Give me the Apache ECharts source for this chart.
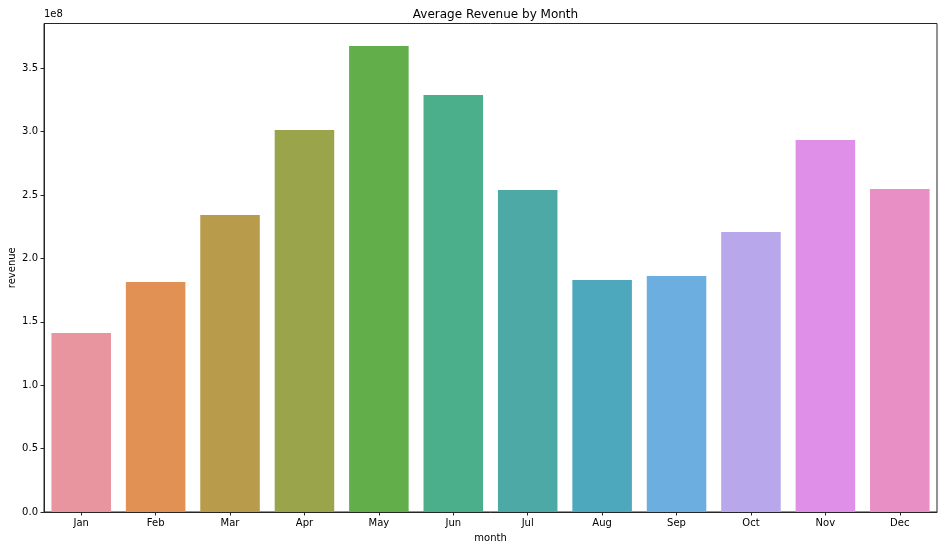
<!DOCTYPE html>
<html>
<head>
<meta charset="utf-8">
<script src="https://cdn.jsdelivr.net/npm/echarts@6/dist/echarts.min.js"></script>
<style>
html,body{margin:0;padding:0;background:#fff;}
#chart{width:944px;height:550px;}
</style>
</head>
<body>
<div id="chart"></div>
<script>
const months = ["Jan","Feb","Mar","Apr","May","Jun","Jul","Aug","Sep","Oct","Nov","Dec"];
const revenue = [141200000,181400000,234300000,301300000,367600000,328900000,254000000,183000000,186200000,220900000,293400000,254800000];
const barColors = ["#e8959f","#e29154","#b89b4b","#9aa54b","#61ae4a","#4aaf8a","#4ca9a6","#4ea8bd","#6caee0","#b8a8eb","#e08fe9","#e890c5"];
const yTicks = {min:0, max:385300000, interval:50000000};

const font = "DejaVu Sans";
const chart = echarts.init(document.getElementById('chart'), null, {renderer:'canvas'});
chart.setOption({
  backgroundColor:'#fff',
  animation:false,
  title:{
    text:'Average Revenue by Month',
    left: 44 + 893/2, top: 4, textAlign:'center',
    textStyle:{fontFamily:font, fontSize:12, fontWeight:'normal', color:'#000'}
  },
  graphic:[{
    type:'text', left:44, top:9,
    style:{text:'1e8', font:'10px "DejaVu Sans"', fill:'#000'}
  }],
  grid:{left:44, right:7, top:23.5, bottom:38, containLabel:false, outerBoundsMode:'none',
    show:true, borderColor:'#262626', borderWidth:1, backgroundColor:'transparent'},
  xAxis:{
    type:'category', data:months,
    name:'month', nameLocation:'middle', nameGap:21,
    nameTextStyle:{fontFamily:font, fontSize:10, color:'#000'},
    axisLine:{lineStyle:{color:'#262626', width:1}},
    axisTick:{show:true, alignWithLabel:true, length:3.5, lineStyle:{color:'#262626'}},
    axisLabel:{fontFamily:font, fontSize:10, color:'#000', margin:6},
  },
  yAxis:{
    type:'value', min:yTicks.min, max:yTicks.max, interval:yTicks.interval,
    name:'revenue', nameLocation:'middle', nameGap:27, nameRotate:90, nameMoveOverlap:false,
    nameTextStyle:{fontFamily:font, fontSize:10, color:'#000'},
    axisLine:{show:true, lineStyle:{color:'#262626', width:1}},
    axisTick:{show:true, length:3.5, lineStyle:{color:'#262626'}},
    splitLine:{show:false},
    axisLabel:{fontFamily:font, fontSize:10, color:'#000', margin:6, showMaxLabel:false,
      formatter: v => (v/1e8).toFixed(1)}
  },
  series:[{
    type:'bar',
    data: revenue.map((v,i)=>({value:v, itemStyle:{color:barColors[i]}})),
    barCategoryGap:'20%'
  }]
});
</script>
</body>
</html>
